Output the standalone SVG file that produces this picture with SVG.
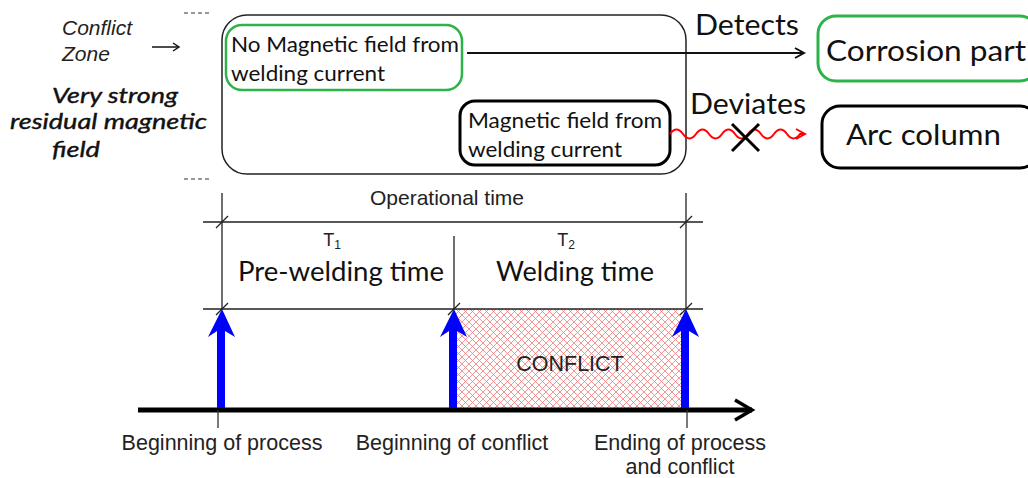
<svg xmlns="http://www.w3.org/2000/svg" width="1028" height="478" viewBox="0 0 1028 478">
<style>
.cal{font-family:Lato,"Open Sans",sans-serif;fill:#111}
.ar{font-family:"Liberation Sans",Arial,sans-serif;fill:#222}
.thin{stroke:#222;stroke-width:1.3;fill:none}
.blue{fill:#0000ff}
</style>
<defs>
<pattern id="hatch" patternUnits="userSpaceOnUse" width="7" height="7">
<path d="M0,0 L7,7 M7,0 L0,7" stroke="#f07878" stroke-width="0.8"/>
</pattern>
<marker id="ah" markerWidth="12" markerHeight="12" refX="10" refY="6" orient="auto" markerUnits="userSpaceOnUse">
<path d="M1,1 L10,6 L1,11" fill="none" stroke="#111" stroke-width="2"/>
</marker>
<marker id="ahr" markerWidth="12" markerHeight="12" refX="10" refY="6" orient="auto" markerUnits="userSpaceOnUse">
<path d="M1,1 L10,6 L1,11" fill="none" stroke="#f00" stroke-width="2"/>
</marker>
<marker id="axh" markerWidth="24" markerHeight="24" refX="20" refY="12" orient="auto" markerUnits="userSpaceOnUse">
<path d="M3,2 L20,12 L3,22" fill="none" stroke="#000" stroke-width="3.5"/>
</marker>
</defs>
<rect width="1028" height="478" fill="#fff"/>

<g id="left-labels">
<text class="ar" x="62" y="35" font-size="21" font-style="italic" fill="#333">Conflict</text>
<text class="ar" x="62" y="61" font-size="21" font-style="italic" fill="#333">Zone</text>
<path d="M152,47 L178,47" stroke="#111" stroke-width="1.5"/>
<path d="M173,43 L179,47 L173,51" fill="none" stroke="#111" stroke-width="1.5"/>
<text class="cal" x="52" y="103" font-size="22" font-style="italic" stroke="#111" stroke-width="0.4" textLength="126" lengthAdjust="spacingAndGlyphs">Very strong</text>
<text class="cal" x="10" y="129" font-size="22" font-style="italic" stroke="#111" stroke-width="0.4" textLength="197" lengthAdjust="spacingAndGlyphs">residual magnetic</text>
<text class="cal" x="52" y="157" font-size="22" font-style="italic" stroke="#111" stroke-width="0.4" textLength="48" lengthAdjust="spacingAndGlyphs">field</text>
<path d="M184,13 H212 M184,179 H212" stroke="#333" stroke-width="1" stroke-dasharray="4,3"/>
</g>

<g id="conflict-zone">
<rect x="222" y="15" width="464" height="159" rx="25" fill="none" stroke="#222" stroke-width="1.5"/>
</g>

<g id="no-field-node">
<rect x="226" y="25" width="236" height="65" rx="16" fill="#fff" stroke="#2db34a" stroke-width="2.5"/>
<text class="cal" x="231" y="52" font-size="21" textLength="228" lengthAdjust="spacingAndGlyphs">No Magnetic field from</text>
<text class="cal" x="231" y="81" font-size="21" textLength="154" lengthAdjust="spacingAndGlyphs">welding current</text>
</g>

<g id="field-node">
<rect x="460" y="101" width="210" height="64" rx="15" fill="#fff" stroke="#000" stroke-width="3"/>
<text class="cal" x="468" y="128" font-size="21" textLength="194" lengthAdjust="spacingAndGlyphs">Magnetic field from</text>
<text class="cal" x="468" y="157" font-size="21" textLength="154" lengthAdjust="spacingAndGlyphs">welding current</text>
</g>

<g id="corrosion-node">
<rect x="818" y="16" width="220" height="65" rx="18" fill="#fff" stroke="#2db34a" stroke-width="3"/>
<text class="cal" x="826" y="61" font-size="29" textLength="200" lengthAdjust="spacingAndGlyphs">Corrosion part</text>
</g>

<g id="arc-node">
<rect x="822" y="106" width="216" height="62" rx="18" fill="#fff" stroke="#000" stroke-width="3"/>
<text class="cal" x="846" y="145" font-size="29" textLength="155" lengthAdjust="spacingAndGlyphs">Arc column</text>
</g>

<g id="connectors">
<path d="M467,53 L804,53" stroke="#111" stroke-width="2" fill="none" marker-end="url(#ah)"/>
<text class="cal" x="695" y="35" font-size="28" textLength="104" lengthAdjust="spacingAndGlyphs">Detects</text>
<path d="M670,134 q6.5,-9 13,0 t13,0 t13,0 t13,0 t13,0 t13,0 t13,0 t13,0 t13,0 t13,0 l5,0" stroke="#f00" stroke-width="2" fill="none" marker-end="url(#ahr)"/>
<text class="cal" x="690" y="114" font-size="28" textLength="116" lengthAdjust="spacingAndGlyphs">Deviates</text>
<path d="M732,124 L759,151 M732,151 L759,124" stroke="#000" stroke-width="3"/>
</g>

<g id="timeline">
<rect x="454" y="309" width="228" height="99" fill="url(#hatch)"/>
<text class="ar" x="570" y="371" font-size="21.5" text-anchor="middle">CONFLICT</text>
<text class="ar" x="447" y="205" font-size="21" text-anchor="middle" fill="#333">Operational time</text>
<path class="thin" d="M222,193 V309 M454,236 V309 M686,193 V309 M203,222 H703 M203,309 H703"/>
<path class="thin" d="M216,228 L228,216 M216,315 L228,303 M448,315 L460,303 M680,228 L692,216 M680,315 L692,303"/>
<text class="ar" x="332" y="246" font-size="18" text-anchor="middle" fill="#333">T<tspan font-size="12" dy="3">1</tspan></text>
<text class="cal" x="341" y="281" font-size="26" text-anchor="middle" textLength="206" lengthAdjust="spacingAndGlyphs">Pre-welding time</text>
<text class="ar" x="566" y="246" font-size="18" text-anchor="middle" fill="#333">T<tspan font-size="12" dy="3">2</tspan></text>
<text class="cal" x="575" y="281" font-size="26" text-anchor="middle" textLength="158" lengthAdjust="spacingAndGlyphs">Welding time</text>
<path d="M138,410 L752,410" stroke="#000" stroke-width="5" fill="none" marker-end="url(#axh)"/>
<path d="M218,410 V428 M687,410 V428" stroke="#333" stroke-width="1.3"/>
<path class="blue" d="M217,408 L225,408 L225,331 L235,337 L222,309 L208,337 L217,331 Z"/>
<path class="blue" d="M449,408 L457,408 L457,331 L467,337 L454,309 L440,337 L449,331 Z"/>
<path class="blue" d="M681,408 L689,408 L689,331 L699,337 L686,309 L672,337 L681,331 Z"/>
<text class="ar" x="222" y="450" font-size="21.5" text-anchor="middle">Beginning of process</text>
<text class="ar" x="452" y="450" font-size="21.5" text-anchor="middle">Beginning of conflict</text>
<text class="ar" x="680" y="450" font-size="21.5" text-anchor="middle">Ending of process</text>
<text class="ar" x="680" y="474" font-size="21.5" text-anchor="middle">and conflict</text>
</g>
</svg>
